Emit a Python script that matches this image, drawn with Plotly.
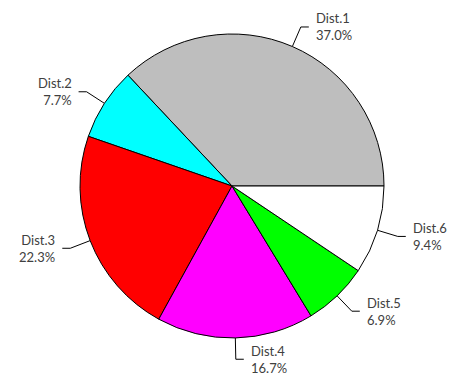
import numpy as np
import plotly.graph_objects as go

# Slice data
labels = ["Dist.1", "Dist.2", "Dist.3", "Dist.4", "Dist.5", "Dist.6"]
shares = [37.0, 7.7, 22.3, 16.7, 6.9, 9.4]
colors = ["#BEBEBE", "#00FFFF", "#FF0000", "#FF00FF", "#00FF00", "#FFFFFF"]

W, H = 455, 381
cx, cy, R = 232, 186, 152          # pie centre and radius in pixels
leader_r = 1.14                    # radial leader length (fraction of R)
leader_h = 8                       # horizontal leader tail, px
text_gap = 5

total = float(sum(shares))

# plotly's counterclockwise mode places the first slice clockwise of the
# rotation angle, so shift by its sweep to start it at 3 o'clock
start_rot = 90 - 360 * shares[0] / total

fig = go.Figure()

fig.add_trace(go.Pie(
    labels=labels,
    values=shares,
    sort=False,
    direction="counterclockwise",
    rotation=start_rot,
    marker=dict(colors=colors, line=dict(color="black", width=1)),
    textinfo="none",
    hoverinfo="label+percent",
    showlegend=False,
    domain=dict(x=[(cx - R) / W, (cx + R) / W],
                y=[(H - cy - R) / H, (H - cy + R) / H]),
))

# Leader lines and labels positioned at each slice's mid-angle
cum = np.cumsum([0.0] + shares)
annotations = []
for i, (lab, v) in enumerate(zip(labels, shares)):
    mid = 2 * np.pi * (cum[i] + v / 2) / total
    c, s = np.cos(mid), np.sin(mid)
    x0, y0 = cx + R * c, cy - R * s
    x1, y1 = cx + leader_r * R * c, cy - leader_r * R * s
    side = 1 if c >= 0 else -1
    x2 = x1 + side * leader_h
    fig.add_trace(go.Scatter(
        x=[x0, x1, x2], y=[y0, y1, y1], mode="lines",
        line=dict(color="black", width=1),
        hoverinfo="skip", showlegend=False,
    ))
    annotations.append(dict(
        x=x2 + side * text_gap, y=y1, xref="x", yref="y",
        text=f"{lab}<br>{v:.1f}%",
        showarrow=False,
        xanchor="left" if side > 0 else "right",
        yanchor="middle",
        align="left" if side > 0 else "right",
        font=dict(family="Lato", size=13, color="#404040"),
    ))

fig.update_layout(
    width=W, height=H,
    margin=dict(l=0, r=0, t=0, b=0),
    paper_bgcolor="white", plot_bgcolor="rgba(0,0,0,0)",
    xaxis=dict(range=[0, W], visible=False, fixedrange=True),
    yaxis=dict(range=[H, 0], visible=False, fixedrange=True),
    annotations=annotations,
)

fig.write_html("out.html")
